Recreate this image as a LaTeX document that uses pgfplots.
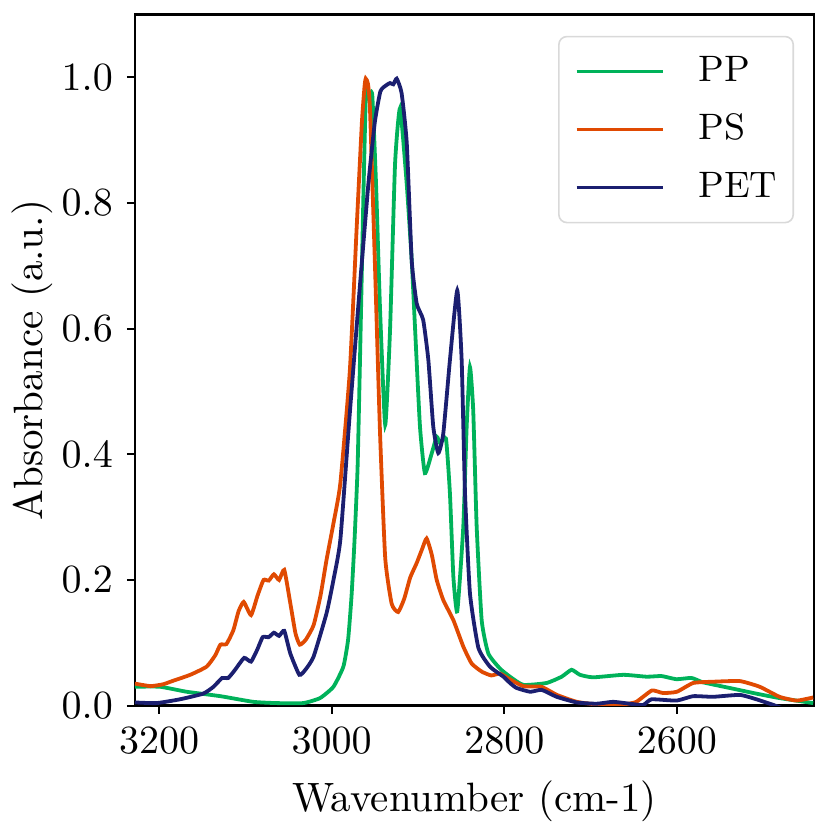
\documentclass[border=0pt]{standalone}
\usepackage{pgfplots}
\pgfplotsset{compat=1.18}
\definecolor{ppc}{RGB}{0,178,90}
\definecolor{psc}{RGB}{224,74,2}
\definecolor{petc}{RGB}{27,31,112}
\begin{document}
\begin{tikzpicture}
\begin{axis}[
  width=169.75pt, height=172.75pt, scale only axis,
  at={(0,0)}, anchor=south west,
  x dir=reverse, xmin=2441, xmax=3228, ymin=0, ymax=1.1,
  xtick={3200,3000,2800,2600}, ytick={0,0.2,0.4,0.6,0.8,1.0},
  xtick pos=lower, ytick pos=left,
  xticklabel style={/pgf/number format/1000 sep={}},
  yticklabel style={/pgf/number format/.cd, fixed, fixed zerofill, precision=1},
  tick align=outside, major tick length=2pt, tick style={black, line width=0.5pt},
  axis line style={line width=0.6pt},
  every tick label/.append style={font=\fontsize{10.25}{12}\selectfont},
  label style={font=\fontsize{10.25}{12}\selectfont},
  xlabel={Wavenumber (cm-1)}, ylabel={Absorbance (a.u.)},
  ylabel style={yshift=-4.5pt},
  legend style={at={(1,1)}, anchor=north east, xshift=-5pt, yshift=-5.3pt,
    draw=black!15, rounded corners=2pt, line width=0.4pt, inner xsep=4pt, inner ysep=1.5pt,
    font=\fontsize{9.2}{11}\selectfont, row sep=0pt,
    nodes={inner xsep=0pt, inner ysep=0pt, minimum height=14.5pt},
    /tikz/every odd column/.append style={column sep=8.5pt}},
  legend cell align=left,
  legend image code/.code={\draw[#1, line width=0.9pt] (0pt,0pt) -- (21.5pt,0pt);},
  every axis plot/.append style={line width=0.95pt, smooth, tension=0.3},
]
\addplot[ppc] coordinates {
(3228,0.030)(3199,0.030)(3168,0.022)(3129,0.015)(3091,0.006)(3064,0.004)(3033,0.004)
(3013.5,0.012)(2998,0.030)(2986.5,0.062)(2981,0.105)(2977,0.175)(2973.5,0.265)(2970,0.380)(2967,0.565)
(2963,0.829)(2960,0.990)(2956.5,0.968)(2953,0.972)(2948.6,0.829)(2944,0.631)(2938,0.447)
(2932.4,0.598)(2926.6,0.862)(2920.8,0.951)(2913,0.829)(2907.3,0.709)(2903.5,0.603)
(2897.7,0.444)(2892,0.370)(2884,0.402)(2878.3,0.428)(2874.5,0.418)(2867.6,0.425)
(2863,0.338)(2859,0.205)(2854.5,0.150)(2847.5,0.285)(2843.6,0.444)(2839.8,0.539)
(2836,0.470)(2832,0.285)(2826.2,0.136)(2818.5,0.083)(2805,0.059)(2793.4,0.046)
(2778,0.033)(2751,0.036)(2733.5,0.046)(2722,0.057)(2712.3,0.049)(2697,0.045)
(2662,0.049)(2635,0.046)(2617.7,0.047)(2600.5,0.042)(2583,0.044)(2569.5,0.037)
(2538.6,0.028)(2507.7,0.019)(2481,0.012)(2442,0.004)
};
\addlegendentry{PP}
\addplot[psc] coordinates {
(3228,0.035)(3210,0.031)(3195,0.034)(3187,0.038)(3164,0.049)(3145,0.062)(3135,0.080)
(3129,0.097)(3122,0.098)(3114,0.120)(3108,0.150)(3102,0.165)(3093.5,0.144)(3086,0.175)
(3079,0.200)(3073,0.199)(3067,0.209)(3061,0.200)(3055,0.216)(3048,0.163)(3042,0.115)
(3037,0.097)(3030,0.105)(3021,0.128)(3013,0.175)(3006,0.232)(2998,0.290)(2990,0.354)
(2979,0.533)(2971,0.763)(2965,0.929)(2962,0.985)(2960.6,0.998)(2958,0.990)(2955.6,0.948)
(2949.8,0.698)(2944,0.434)(2938,0.235)(2930.5,0.162)(2923,0.149)(2916,0.170)(2909,0.204)
(2901.5,0.227)(2895,0.250)(2890,0.266)(2884,0.240)(2878.3,0.200)(2870.7,0.168)
(2859,0.136)(2847.5,0.094)(2837.8,0.067)(2826,0.054)(2815,0.048)(2805,0.051)(2795,0.043)
(2778,0.031)(2757,0.030)(2739,0.017)(2716,0.006)(2693,0.002)(2662,0.002)(2647,0.006)
(2629,0.024)(2616,0.020)(2600,0.022)(2581,0.036)(2558,0.038)(2527,0.039)(2504,0.030)
(2481,0.014)(2461,0.008)(2442,0.013)
};
\addlegendentry{PS}
\addplot[petc] coordinates {
(3228,0.005)(3203,0.004)(3176,0.010)(3149,0.019)(3137,0.030)(3127,0.044)(3120,0.044)
(3112,0.057)(3101.5,0.076)(3093.5,0.070)(3086,0.090)(3080,0.109)(3073,0.109)(3067,0.116)
(3061,0.111)(3055,0.119)(3048,0.083)(3037.5,0.049)(3030,0.058)(3021,0.078)(3006,0.147)
(2998,0.200)(2990,0.264)(2979,0.466)(2967.5,0.665)(2957.6,0.829)(2950,0.929)(2943.5,0.978)
(2936.3,0.988)(2932.4,0.991)(2928.6,0.989)(2924.7,0.998)(2919,0.975)(2913,0.895)
(2907.3,0.709)(2901.5,0.640)(2894,0.614)(2888,0.550)(2882.3,0.444)(2876.5,0.402)
(2870.7,0.433)(2863,0.550)(2854.5,0.661)(2849.4,0.550)(2845.5,0.338)(2839.8,0.179)
(2830,0.092)(2816.6,0.062)(2801,0.046)(2793.4,0.036)(2785.7,0.028)(2770,0.022)
(2756.7,0.025)(2739.3,0.014)(2716,0.005)(2693,0.003)(2674,0.006)(2654.4,0.003)
(2639,0.001)(2629.3,0.010)(2600.5,0.008)(2581,0.015)(2558,0.014)(2527,0.017)
(2507.7,0.010)(2488,0.001)(2470,-0.008)(2441,-0.020)
};
\addlegendentry{PET}
\end{axis}
\pgfresetboundingbox
\path (-33.75pt,-31.1pt) rectangle (173.75pt,176.4pt);
\end{tikzpicture}
\end{document}
